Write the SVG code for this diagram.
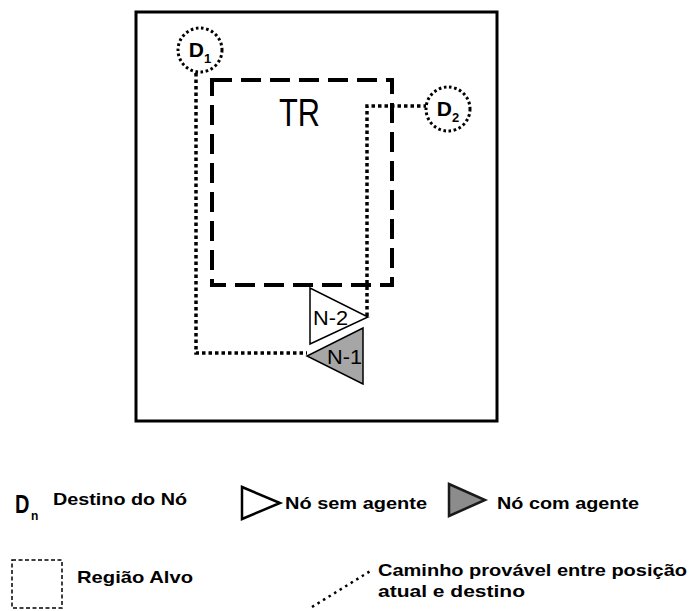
<svg xmlns="http://www.w3.org/2000/svg" width="690" height="611" viewBox="0 0 690 611">
<style>
.dot{fill:none;stroke:#000;stroke-width:3.5;stroke-dasharray:3.5 3}
.circ{fill:#fff;stroke:#000;stroke-width:3;stroke-dasharray:2.6 2.6}
.lab{font-family:"Liberation Sans",Arial,sans-serif;fill:#000}
.b{font-weight:bold}
</style>
<rect width="690" height="611" fill="#fff"/>
<rect id="frame" x="136" y="12" width="361" height="409" fill="none" stroke="#000" stroke-width="3"/>
<g id="TR">
<rect x="212" y="80" width="180" height="205" fill="none" stroke="#000" stroke-width="4" stroke-dasharray="20 9"/>
<text class="lab" x="279" y="126" font-size="38" textLength="41" lengthAdjust="spacingAndGlyphs">TR</text>
</g>
<g id="connectors">
<polyline class="dot" points="196,73 196,353 307,353"/>
<polyline class="dot" points="367,316 367,106 426,106"/>
</g>
<g id="D1">
<circle class="circ" cx="200" cy="50" r="22"/>
<text class="lab b" x="200" y="57" font-size="21" text-anchor="middle">D<tspan font-size="13" dy="6">1</tspan></text>
</g>
<g id="D2">
<circle class="circ" cx="448" cy="109" r="22"/>
<text class="lab b" x="448" y="116" font-size="21" text-anchor="middle">D<tspan font-size="13" dy="6">2</tspan></text>
</g>
<g id="N2">
<polygon points="310,288 310,344 368,317" fill="#fff" stroke="#000" stroke-width="1.5"/>
<text class="lab" x="313" y="325" font-size="20" textLength="35" lengthAdjust="spacingAndGlyphs">N-2</text>
</g>
<g id="N1">
<polygon points="363,328 363,384 307,356" fill="#a6a6a6" stroke="#000" stroke-width="1.5"/>
<text class="lab" x="327" y="364" font-size="20" textLength="35" lengthAdjust="spacingAndGlyphs">N-1</text>
</g>
<g id="legend">
<text class="lab b" font-size="25" transform="translate(15,513) scale(0.8,1)">D</text>
<text class="lab b" x="31" y="520" font-size="12">n</text>
<text class="lab b" x="53" y="505" font-size="17" textLength="134" lengthAdjust="spacingAndGlyphs">Destino do Nó</text>
<polygon points="242,487 242,519 280,503" fill="#fff" stroke="#000" stroke-width="2.5"/>
<text class="lab b" x="285" y="509" font-size="17" textLength="142" lengthAdjust="spacingAndGlyphs">Nó sem agente</text>
<polygon points="449,484 449,516 485,500" fill="#8c8c8c" stroke="#1a1a1a" stroke-width="2.5"/>
<text class="lab b" x="497" y="509" font-size="17" textLength="142" lengthAdjust="spacingAndGlyphs">Nó com agente</text>
<rect x="12" y="560" width="50" height="48" fill="none" stroke="#000" stroke-width="1.5" stroke-dasharray="4 2.5"/>
<text class="lab b" x="77" y="583" font-size="17" textLength="116" lengthAdjust="spacingAndGlyphs">Região Alvo</text>
<line x1="312" y1="607" x2="372" y2="570" stroke="#000" stroke-width="2.5" stroke-dasharray="2.5 4"/>
<text class="lab b" x="378" y="576" font-size="17" textLength="309" lengthAdjust="spacingAndGlyphs">Caminho provável entre posição</text>
<text class="lab b" x="378" y="597" font-size="17" textLength="147" lengthAdjust="spacingAndGlyphs">atual e destino</text>
</g>
</svg>
